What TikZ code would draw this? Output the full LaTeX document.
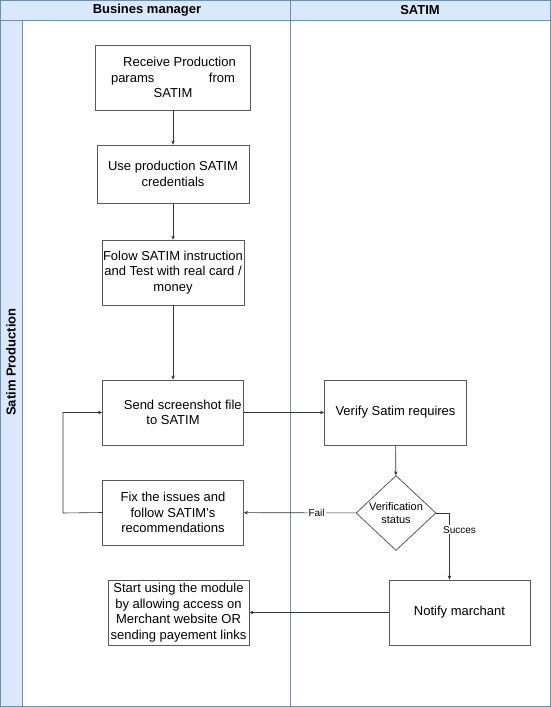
\documentclass[tikz,border=0pt]{standalone}
\usepackage{fontspec}
\setmainfont{Liberation Sans}
\usetikzlibrary{shapes.geometric,arrows.meta}
\begin{document}
\begin{tikzpicture}[x=1pt,y=-1pt,
  box/.style={draw=black!65,fill=white,line width=0.8pt,align=center,font=\fontsize{13}{15.5}\selectfont,inner sep=1pt},
  arr/.style={draw=black!80,line width=0.6pt,-{Stealth[length=4pt,width=3.5pt]}},
  lbl/.style={fill=white,inner sep=1pt,font=\fontsize{10}{12}\selectfont},
  lane/.style={draw=blue!45!gray,line width=0.8pt}]
\definecolor{hdr}{HTML}{DAE8FC}
\definecolor{hdrb}{HTML}{6C8EBF}
\useasboundingbox (0,0) rectangle (551,707);
\filldraw[fill=hdr,draw=hdrb,line width=0.8pt] (0.5,0.5) rectangle (550.5,706);
\fill[white] (22,20) rectangle (290,705.5);
\fill[white] (290.5,20) rectangle (550,705.5);
\draw[draw=hdrb,line width=0.8pt] (0.5,20) -- (550.5,20) (22,20) -- (22,706) (290.5,0.5) -- (290.5,706);
\node[font=\bfseries\fontsize{13}{15}\selectfont] (h1) at (147,10) {Busines manager};
\node[font=\bfseries\fontsize{13}{15}\selectfont] (h2) at (420,10) {SATIM};
\node[font=\bfseries\fontsize{13}{15}\selectfont,rotate=90] (hl) at (11,362) {Satim Production};

\node[box,minimum width=155pt,minimum height=65pt] (n1) at (173,77.5) {\hspace*{1em}Receive Production\\params\hspace{4.2em}from\\SATIM};
\node[box,minimum width=152pt,minimum height=58pt] (n2) at (173,174) {Use production SATIM\\credentials};
\node[box,minimum width=141pt,minimum height=65pt] (n3) at (173,272.5) {Folow SATIM instruction\\and Test with real card /\\money};
\node[box,minimum width=141pt,minimum height=65pt] (n4) at (173,412.5) {\hspace*{1.5em}Send screenshot file\\to SATIM};
\node[box,minimum width=141pt,minimum height=65pt] (n5) at (173,512.5) {Fix the issues and\\follow SATIM's\\recommendations};
\node[box,minimum width=141pt,minimum height=65pt,inner sep=0pt] (n6) at (178.5,612.5) {Start using the module\\by allowing access on\\Merchant website OR\\sending payement links};
\node[box,minimum width=142pt,minimum height=65pt] (v1) at (395.5,412.5) {Verify Satim requires};
\node[box,diamond,minimum width=80pt,minimum height=64pt,inner sep=0pt,font=\fontsize{11}{13}\selectfont] (d) at (396,513) {Verification\\status};
\node[box,minimum width=141pt,minimum height=65pt] (nm) at (459.5,612.5) {Notify marchant};
\coordinate (c1) at (449.5,513);
\coordinate (c2) at (63,513);
\coordinate (c3) at (63,412.5);

\draw[arr] (n1) -- (n2);
\draw[arr] (n2) -- (n3);
\draw[arr] (n3) -- (n4);
\draw[arr] (n4) -- (v1);
\draw[arr] (v1) -- (d);
\draw[arr] (d) -- node[lbl,pos=0.35]{Fail} (n5);
\draw[arr] (d.east) -- (c1) -- node[lbl,pos=0.25,xshift=10pt]{Succes} (c1 |- nm.north);
\draw[arr] (nm.west) -- (n6.east);
\draw[arr] (n5.west) -- (c2) -- (c3) -- (n4.west);
\end{tikzpicture}
\end{document}
